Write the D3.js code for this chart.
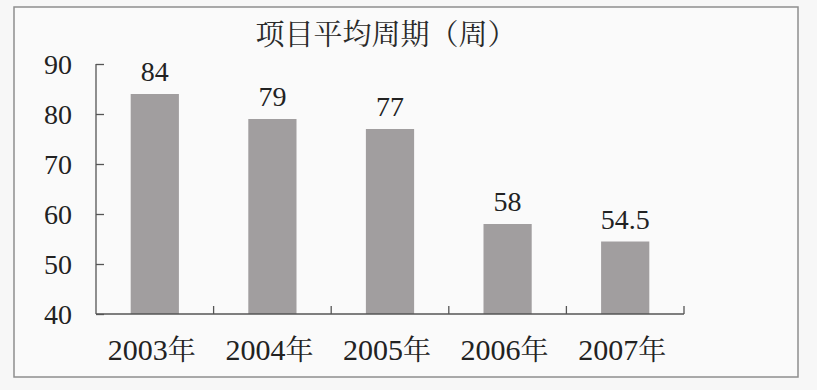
<!DOCTYPE html>
<html><head><meta charset="utf-8">
<script src="https://cdn.jsdelivr.net/npm/d3@7"></script>
<style>
html,body{margin:0;padding:0;background:#f7f7f7;}
svg{display:block;}
</style></head>
<body>
<svg id="chart" width="817" height="390"></svg>
<script>
const title = "项目平均周期（周）";
const categories = ["2003年","2004年","2005年","2006年","2007年"];
const values = [84, 79, 77, 58, 54.5];
const valueLabels = ["84","79","77","58","54.5"];
const yTicks = [40,50,60,70,80,90];

const svg = d3.select("#chart");
const W = 817, H = 390;
const plot = {left: 96, right: 684, top: 64, bottom: 314};
const NUM = '"Liberation Serif"';
const CJK = '"Noto Serif CJK SC"';

svg.append("rect").attr("x",0).attr("y",0).attr("width",W).attr("height",H).attr("fill","#f7f7f7");
svg.append("rect").attr("x",14).attr("y",7).attr("width",784).attr("height",370)
  .attr("fill","#fafafa").attr("stroke","#8e8e8e").attr("stroke-width",1.5);

const x = d3.scaleBand().domain(categories).range([plot.left, plot.right]).paddingInner(0.59).paddingOuter(0.295);
const xb = d3.scaleBand().domain(categories).range([plot.left, plot.right]);
const y = d3.scaleLinear().domain([40,90]).range([plot.bottom, plot.top]);

// bars
svg.append("g").selectAll("rect").data(values).join("rect")
  .attr("x",(d,i)=>x(categories[i]))
  .attr("width",x.bandwidth())
  .attr("y",d=>y(d))
  .attr("height",d=>y(40)-y(d))
  .attr("fill","#a19e9f");

// value labels
svg.append("g").selectAll("text").data(values).join("text")
  .style("font-family",NUM)
  .attr("x",(d,i)=>x(categories[i])+x.bandwidth()/2)
  .attr("y",d=>y(d)-13)
  .attr("text-anchor","middle")
  .attr("font-size",28).attr("fill","#222")
  .text((d,i)=>valueLabels[i]);

// y axis
const yAxis = d3.axisRight(y).tickValues(yTicks).tickSize(8).tickFormat("");
const gy = svg.append("g").attr("transform",`translate(${plot.left},0)`).call(yAxis);
gy.select(".domain").attr("d",`M0,${plot.top}V${plot.bottom}`);
gy.selectAll("path,line").attr("stroke","#555").attr("stroke-width",1.3);
svg.append("g").selectAll("text").data(yTicks).join("text")
  .style("font-family",NUM)
  .attr("x",72).attr("y",d=>y(d)).attr("dy","0.34em")
  .attr("text-anchor","end")
  .attr("font-size",28).attr("fill","#222")
  .text(d=>d);

// x axis
const gx = svg.append("g").attr("transform",`translate(0,${plot.bottom})`);
gx.append("line").attr("x1",plot.left).attr("x2",plot.right).attr("stroke","#555").attr("stroke-width",1.3);
const bounds = categories.map(c=>xb(c)+xb.bandwidth());
gx.selectAll("line.t").data(bounds).join("line").attr("class","t")
  .attr("x1",d=>d).attr("x2",d=>d).attr("y1",0).attr("y2",-8)
  .attr("stroke","#555").attr("stroke-width",1.3);
svg.append("g").selectAll("text").data(categories).join("text")
  .style("font-family",NUM)
  .attr("x",d=>xb(d)+xb.bandwidth()/2-3)
  .attr("y",360)
  .attr("text-anchor","middle")
  .attr("font-size",30)
  .attr("fill","#222")
  .each(function(d){
    const t = d3.select(this);
    t.append("tspan").style("font-family",NUM).text(d.slice(0,4));
    t.append("tspan").style("font-family",CJK).attr("font-size",28).text(d.slice(4));
  });

// title
svg.append("text").style("font-family",CJK).attr("x",386).attr("y",45).attr("text-anchor","middle")
  .attr("font-size",29).attr("fill","#2a2a2a").text(title);
</script>
</body></html>
